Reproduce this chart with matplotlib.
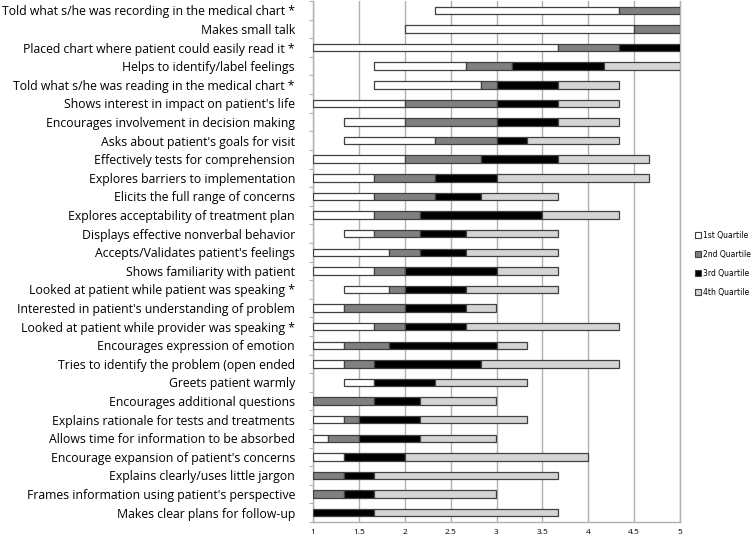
import matplotlib
matplotlib.use("Agg")
import matplotlib.pyplot as plt
from matplotlib.patches import Patch
import numpy as np

categories = [
    "Told what s/he was recording in the medical chart *",
    "Makes small talk",
    "Placed chart where patient could easily read it *",
    "Helps to identify/label feelings",
    "Told what s/he was reading in the medical chart *",
    "Shows interest in impact on patient's life",
    "Encourages involvement in decision making",
    "Asks about patient's goals for visit",
    "Effectively tests for comprehension",
    "Explores barriers to implementation",
    "Elicits the full range of concerns",
    "Explores acceptability of treatment plan",
    "Displays effective nonverbal behavior",
    "Accepts/Validates patient's feelings",
    "Shows familiarity with patient",
    "Looked at patient while patient was speaking *",
    "Interested in patient's understanding of problem",
    "Looked at patient while provider was speaking *",
    "Encourages expression of emotion",
    "Tries to identify the problem (open ended",
    "Greets patient warmly",
    "Encourages additional questions",
    "Explains rationale for tests and treatments",
    "Allows time for information to be absorbed",
    "Encourage expansion of patient's concerns",
    "Explains clearly/uses little jargon",
    "Frames information using patient's perspective",
    "Makes clear plans for follow-up",
]

t = 1/3
s = 1/6
minimum = [2+t, 2, 1, 1+2*t, 1+2*t, 1, 1+t, 1+t, 1, 1, 1, 1, 1+t, 1,
           1, 1+t, 1, 1, 1, 1, 1+t, 1, 1, 1, 1, 1, 1, 1]
q1 = [4+t, 4.5, 3+2*t, 2+2*t, 2+5*s, 2, 2, 2+t, 2, 1+2*t, 1+2*t, 1+2*t, 1+2*t, 1+5*s,
      1+2*t, 1+5*s, 1+t, 1+2*t, 1+t, 1+t, 1+2*t, 1, 1+t, 1+s, 1+t, 1, 1, 1]
median = [5, 5, 4+t, 3+s, 3, 3, 3, 3, 2+5*s, 2+t, 2+t, 2+s, 2+s, 2+s,
          2, 2, 2, 2, 1+5*s, 1+2*t, 1+2*t, 1+2*t, 1.5, 1.5, 1+t, 1+t, 1+t, 1]
q3 = [5, 5, 5, 4+s, 3+2*t, 3+2*t, 3+2*t, 3+t, 3+2*t, 3, 2+5*s, 3.5, 2+2*t, 2+2*t,
      3, 2+2*t, 2+2*t, 2+2*t, 3, 2+5*s, 2+t, 2+s, 2+s, 2+s, 2, 1+2*t, 1+2*t, 1+2*t]
maximum = [5, 5, 5, 5, 4+t, 4+t, 4+t, 4+t, 4+2*t, 4+2*t, 3+2*t, 4+t, 3+2*t, 3+2*t,
           3+2*t, 3+2*t, 3, 4+t, 3+t, 4+t, 3+t, 3, 3+t, 3, 4, 3+2*t, 3, 3+2*t]

series_names = ["1st Quartile", "2nd Quartile", "3rd Quartile", "4th Quartile"]
colors = ["#ffffff", "#808080", "#000000", "#d4d4d4"]

fig = plt.figure(figsize=(7.56, 5.4), dpi=100)
ax = fig.add_axes([313/756, 18/540, (680-313)/756, 1 - 18/540 - 0.002])

y = np.arange(len(categories))
bounds = [minimum, q1, median, q3, maximum]
for k in range(4):
    left = np.array(bounds[k])
    width = np.array(bounds[k+1]) - left
    mask = width > 1e-9
    ax.barh(y[mask], width[mask], left=left[mask], height=0.4,
            color=colors[k], edgecolor="#404040", linewidth=0.9, zorder=3)

ax.set_xlim(1, 5)
ax.set_ylim(len(categories) - 0.5, -0.5)
ax.set_xticks([1, 1.5, 2, 2.5, 3, 3.5, 4, 4.5, 5])
ax.set_xticklabels(["1", "1.5", "2", "2.5", "3", "3.5", "4", "4.5", "5"], fontsize=6, family="Open Sans")
ax.tick_params(axis="x", length=0, pad=5)
ax.grid(axis="x", color="#b0b0b0", linewidth=1.0, zorder=0)

ax.set_yticks(y)
ax.set_yticklabels(categories, fontsize=8.8, family="Open Sans")
ax.set_yticks(np.arange(len(categories) + 1) - 0.5, minor=True)
ax.tick_params(axis="y", which="major", length=0, pad=13)
ax.tick_params(axis="y", which="minor", length=3, color="#b0b0b0", width=0.8)

ax.spines["top"].set_visible(False)
for side in ["left", "bottom", "right"]:
    ax.spines[side].set_color("#b0b0b0")
    ax.spines[side].set_linewidth(1.0)

handles = [Patch(facecolor=c, edgecolor="#404040", linewidth=0.8, label=n)
           for c, n in zip(colors, series_names)]
fig.legend(handles=handles, loc="upper left", bbox_to_anchor=(692/756, 1 - 228/540),
           frameon=False, fontsize=5.5, handlelength=0.8, handleheight=0.8,
           handletextpad=0.2, labelspacing=1.3, borderaxespad=0)

fig.savefig("out.png", dpi=100)
